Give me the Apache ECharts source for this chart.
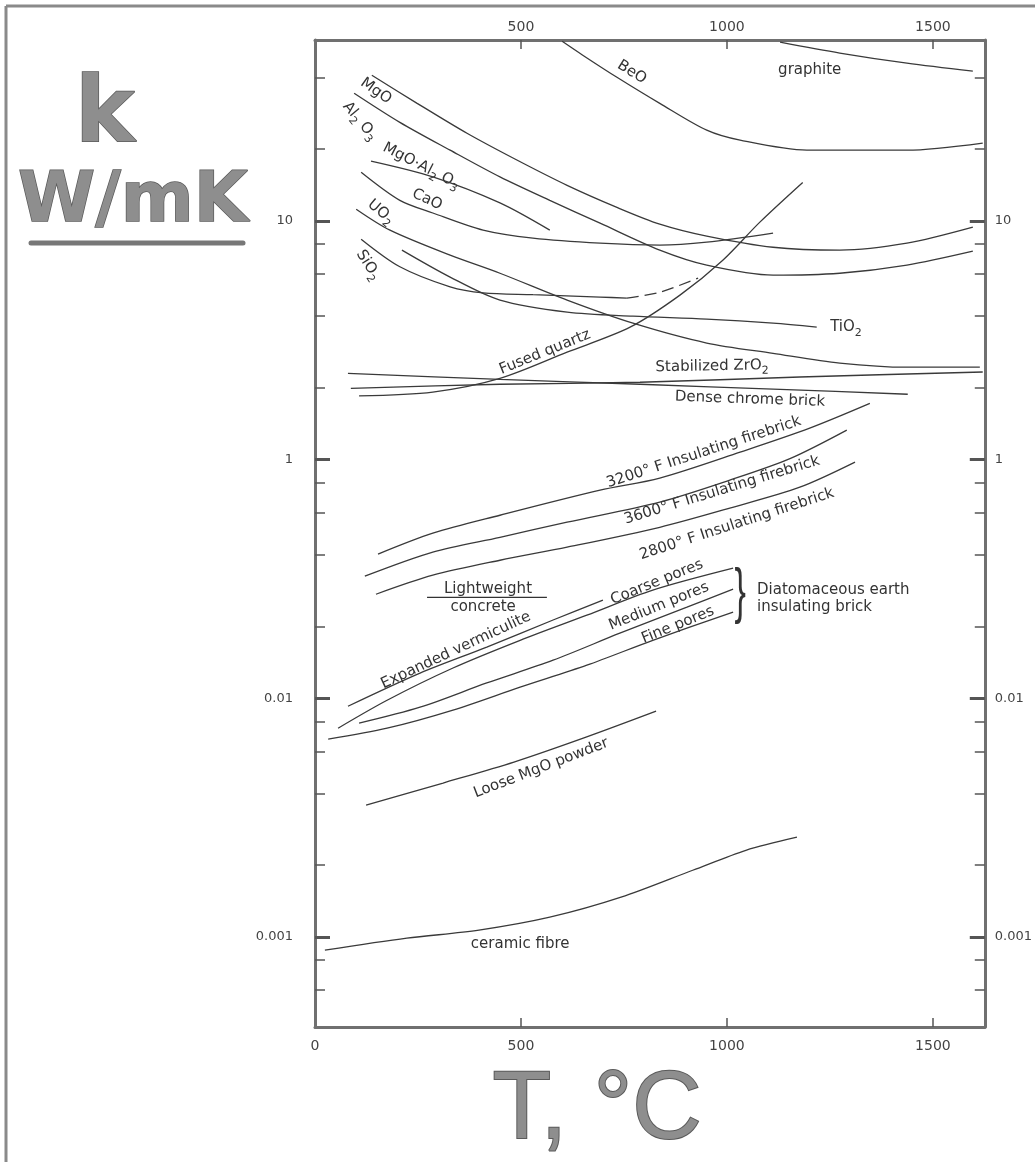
<!DOCTYPE html>
<html>
<head>
<meta charset="utf-8">
<title>k vs T</title>
<script src="https://cdn.jsdelivr.net/npm/echarts@6/dist/echarts.min.js"></script>
<style>
  html, body { margin: 0; padding: 0; background: #fff; }
  #chart { width: 1035px; height: 1162px; }
</style>
</head>
<body>
<div id="chart"></div>
<script>
  // [T in °C, k in W/mK]
  var beo = [[600, 56.6], [650, 49.5], [733, 40.0], [837, 31.1], [951, 24.0], [1032, 21.8], [1194, 19.8], [1437, 19.8], [1621, 21.2]];
  var graphite = [[1129, 56.1], [1274, 50.5], [1437, 45.8], [1597, 42.4]];
  var mgo = [[138, 40.8], [248, 31.1], [369, 23.3], [490, 18.0], [612, 14.1], [733, 11.4], [837, 9.70], [951, 8.64], [1112, 7.76], [1274, 7.55], [1437, 8.07], [1597, 9.42]];
  var al2o3 = [[95, 34.3], [206, 25.9], [328, 19.8], [449, 15.3], [570, 12.2], [692, 9.79], [837, 7.55], [951, 6.53], [1112, 5.93], [1274, 6.04], [1437, 6.53], [1597, 7.47]];
  var spinel = [[136, 17.8], [286, 15.3], [449, 11.9], [570, 9.15]];
  var cao = [[112, 16.0], [206, 12.2], [286, 10.8], [408, 9.15], [529, 8.47], [692, 8.07], [837, 7.92], [951, 8.15], [1112, 8.89]];
  var uo2 = [[100, 11.2], [182, 9.15], [328, 7.19], [449, 6.04], [612, 4.66], [772, 3.73], [951, 3.08], [1112, 2.79], [1274, 2.54], [1437, 2.44], [1614, 2.44]];
  var sio2 = [[112, 8.39], [206, 6.43], [328, 5.30], [408, 5.00], [529, 4.91], [692, 4.80], [757, 4.75]];
  var sio2Dashed = [[757, 4.75], [837, 5.03], [930, 5.76]];
  var tio2 = [[211, 7.55], [328, 5.82], [449, 4.66], [612, 4.15], [772, 3.99], [951, 3.88], [1112, 3.73], [1218, 3.59]];
  var fusedQuartz = [[107, 1.85], [286, 1.92], [449, 2.19], [612, 2.82], [765, 3.59], [886, 4.89], [990, 6.85], [1080, 9.89], [1184, 14.5]];
  var zro2 = [[87, 1.99], [449, 2.07], [789, 2.11], [1177, 2.22], [1621, 2.33]];
  var chromeBrick = [[80, 2.30], [449, 2.17], [789, 2.07], [1129, 1.97], [1439, 1.88]];
  var fb3200 = [[153, 0.402], [286, 0.492], [449, 0.585], [692, 0.745], [837, 0.837], [1032, 1.075], [1201, 1.355], [1347, 1.72]];
  var fb3600 = [[121, 0.325], [286, 0.410], [449, 0.473], [612, 0.547], [837, 0.664], [1007, 0.821], [1153, 1.01], [1291, 1.33]];
  var fb2800 = [[148, 0.273], [286, 0.328], [449, 0.379], [612, 0.430], [837, 0.521], [1007, 0.627], [1177, 0.767], [1311, 0.977]];
  var vermiculite = [[80, 0.0927], [255, 0.1276], [417, 0.164], [578, 0.213], [699, 0.258]];
  var coarsePores = [[56, 0.0750], [175, 0.0982], [335, 0.134], [498, 0.175], [660, 0.223], [820, 0.284], [1015, 0.351]];
  var mediumPores = [[107, 0.0787], [255, 0.0918], [417, 0.116], [578, 0.1445], [740, 0.1875], [903, 0.241], [1015, 0.287]];
  var finePores = [[32, 0.0675], [175, 0.0750], [335, 0.0893], [498, 0.1114], [660, 0.1377], [820, 0.175], [1015, 0.230]];
  var looseMgO = [[124, 0.0357], [311, 0.0442], [483, 0.0541], [658, 0.0688], [828, 0.0884]];
  var ceramicFibre = [[24, 0.00881], [223, 0.00989], [398, 0.01069], [570, 0.01211], [743, 0.01469], [917, 0.01905], [1046, 0.0231], [1170, 0.0262]];

  // axis ticks (y ticks are decades of k, labelled as printed on the sheet)
  var xTickValues = [500, 1000, 1500];
  var xBottomLabels = [0, 500, 1000, 1500];
  var yTickValues = [10, 1, 0.1, 0.01];
  var yTickLabels = ['10', '1', '0.01', '0.001'];
  var yMinorMultiples = [2, 4, 6, 8];
  var kMin = 0.0042, kMax = 57.3, tMax = 1626;

  var curves = [
    { data: beo }, { data: graphite }, { data: mgo }, { data: al2o3 }, { data: spinel },
    { data: cao }, { data: uo2 }, { data: sio2 }, { data: sio2Dashed, dashed: true },
    { data: tio2 }, { data: fusedQuartz }, { data: zro2 }, { data: chromeBrick },
    { data: fb3200 }, { data: fb3600 }, { data: fb2800 }, { data: vermiculite },
    { data: coarsePores }, { data: mediumPores }, { data: finePores },
    { data: looseMgO }, { data: ceramicFibre }
  ];

  // curve labels, anchored in data coordinates
  var notes = [
    { text: 'BeO', T: 769, k: 42.0, rot: -32 },
    { text: 'graphite', T: 1201, k: 42.8, rot: 0 },
    { text: 'MgO', T: 148, k: 35.0, rot: -35 },
    { text: 'Al{s|2} O{s|3}', T: 109, k: 26.2, rot: -50 },
    { text: 'MgO·Al{s|2} O{s|3}', T: 258, k: 17.0, rot: -27 },
    { text: 'CaO', T: 272, k: 12.3, rot: -25 },
    { text: 'UO{s|2}', T: 160, k: 10.9, rot: -40 },
    { text: 'SiO{s|2}', T: 129, k: 6.53, rot: -58 },
    { text: 'TiO{s|2}', T: 1289, k: 3.59, rot: 0 },
    { text: 'Fused quartz', T: 558, k: 2.82, rot: 22 },
    { text: 'Stabilized ZrO{s|2}', T: 964, k: 2.46, rot: 1 },
    { text: 'Dense chrome brick', T: 1056, k: 1.79, rot: -2 },
    { text: '3200° F Insulating firebrick', T: 944, k: 1.075, rot: 18 },
    { text: '3600° F Insulating firebrick', T: 988, k: 0.745, rot: 17 },
    { text: '2800° F Insulating firebrick', T: 1024, k: 0.537, rot: 18 },
    { text: 'Lightweight', T: 420, k: 0.287, rot: 0 },
    { text: 'concrete', T: 408, k: 0.241, rot: 0 },
    { text: 'Expanded vermiculite', T: 342, k: 0.159, rot: 25 },
    { text: 'Coarse pores', T: 830, k: 0.307, rot: 22 },
    { text: 'Medium pores', T: 835, k: 0.243, rot: 22 },
    { text: 'Fine pores', T: 881, k: 0.203, rot: 22 },
    { text: 'Diatomaceous earth', T: 1073, k: 0.284, rot: 0, left: true },
    { text: 'insulating brick', T: 1073, k: 0.241, rot: 0, left: true },
    { text: 'Loose MgO powder', T: 549, k: 0.051, rot: 21 },
    { text: 'ceramic fibre', T: 498, k: 0.00934, rot: 0 }
  ];

  var lg = function (v) { return Math.log10(v); };
  var yMin = lg(kMin), yMax = lg(kMax);
  var majorLogs = yTickValues.map(lg);
  var minorLogs = [];
  for (var d = -3; d <= 1; d++) {
    yMinorMultiples.forEach(function (m) {
      var v = d + lg(m);
      if (v > yMin && v < yMax) minorLogs.push(v);
    });
  }

  var fontFam = '"DejaVu Sans", sans-serif';
  var axisColor = '#707070';
  var lineColor = '#3a3a3a';

  var chart = echarts.init(document.getElementById('chart'));

  function yAxisOf(position, major) {
    return {
      type: 'value',
      position: position,
      min: yMin,
      max: yMax,
      splitLine: { show: false },
      axisLine: { show: major, onZero: false, lineStyle: { color: axisColor, width: 3 } },
      axisTick: {
        show: true,
        inside: true,
        length: major ? 15 : 10,
        customValues: major ? majorLogs : minorLogs,
        lineStyle: { color: '#555', width: major ? 3 : 1.5 }
      },
      axisLabel: {
        show: major,
        customValues: majorLogs,
        margin: position === 'left' ? 22 : 10,
        color: '#444',
        fontFamily: fontFam,
        fontSize: 13,
        formatter: function (v) {
          var i = majorLogs.findIndex(function (m) { return Math.abs(m - v) < 1e-6; });
          return i >= 0 ? yTickLabels[i] : '';
        }
      }
    };
  }

  function xAxisOf(position, labels) {
    return {
      type: 'value',
      position: position,
      min: 0,
      max: tMax,
      splitLine: { show: false },
      axisLine: { show: true, onZero: false, lineStyle: { color: axisColor, width: 3 } },
      axisTick: {
        show: true,
        inside: true,
        length: 9,
        customValues: xTickValues,
        lineStyle: { color: '#555', width: 1.5 }
      },
      axisLabel: {
        customValues: labels,
        margin: position === 'top' ? 6 : 12,
        color: '#444',
        fontFamily: fontFam,
        fontSize: 14,
        formatter: function (v) { return String(v); }
      }
    };
  }

  var series = curves.map(function (c) {
    return {
      type: 'line',
      xAxisIndex: 0,
      yAxisIndex: 0,
      smooth: 0.3,
      showSymbol: false,
      silent: true,
      lineStyle: { color: lineColor, width: 1.3, type: c.dashed ? [12, 6] : 'solid' },
      data: c.data.map(function (p) { return [p[0], lg(p[1])]; })
    };
  });

  chart.setOption({
    animation: false,
    backgroundColor: '#fff',
    grid: { left: 315, right: 50, top: 40, bottom: 135, containLabel: false },
    xAxis: [xAxisOf('bottom', xBottomLabels), xAxisOf('top', xTickValues)],
    yAxis: [yAxisOf('left', true), yAxisOf('left', false), yAxisOf('right', true), yAxisOf('right', false)],
    series: series
  });

  var toPx = function (T, k) {
    return chart.convertToPixel({ xAxisIndex: 0, yAxisIndex: 0 }, [T, lg(k)]);
  };

  var subStyle = { fontSize: 11, fontFamily: fontFam, padding: [11, 0, 0, 0], fill: '#333' };
  var graphics = notes.map(function (n) {
    var p = toPx(n.T, n.k);
    return {
      type: 'text',
      x: p[0],
      y: p[1],
      rotation: n.rot * Math.PI / 180,
      silent: true,
      style: {
        x: 0, y: 0,
        text: n.text,
        fontFamily: fontFam,
        fontSize: 15,
        fill: '#333',
        align: n.left ? 'left' : 'center',
        textAlign: n.left ? 'left' : 'center',
        verticalAlign: 'middle',
        textVerticalAlign: 'middle',
        rich: { s: subStyle }
      }
    };
  });

  // bar of "Lightweight / concrete" and the brace of the diatomaceous bricks
  var barA = toPx(272, 0.265), barB = toPx(563, 0.265);
  graphics.push({ type: 'line', silent: true, shape: { x1: barA[0], y1: barA[1], x2: barB[0], y2: barB[1] }, style: { stroke: '#333', lineWidth: 1.3 } });
  var br = toPx(1032, 0.273);
  graphics.push({
    type: 'text', x: br[0], y: br[1], scaleX: 0.55, silent: true,
    style: { x: 0, y: 0, text: '}', fontFamily: '"Liberation Sans", sans-serif', fontSize: 62, fill: '#333', align: 'center', textAlign: 'center', verticalAlign: 'middle', textVerticalAlign: 'middle' }
  });

  // page frame, hand lettered axis titles
  graphics.push({ type: 'line', silent: true, shape: { x1: 6, y1: 6, x2: 1035, y2: 6 }, style: { stroke: '#8a8a8a', lineWidth: 3 } });
  graphics.push({ type: 'line', silent: true, shape: { x1: 6, y1: 6, x2: 6, y2: 1162 }, style: { stroke: '#8a8a8a', lineWidth: 3 } });
  var handStyle = { fill: '#8e8e8e', stroke: '#5a5a5a', lineWidth: 1.5, fontFamily: fontFam, fontWeight: 'bold', align: 'center', textAlign: 'center', verticalAlign: 'middle', textVerticalAlign: 'middle' };
  graphics.push({ type: 'text', x: 105, y: 118, silent: true, style: Object.assign({ text: 'k', fontSize: 90 }, handStyle) });
  graphics.push({ type: 'text', x: 133, y: 203, silent: true, style: Object.assign({ text: 'W/mK', fontSize: 70 }, handStyle) });
  graphics.push({ type: 'line', silent: true, shape: { x1: 31, y1: 243, x2: 243, y2: 243 }, style: { stroke: '#777', lineWidth: 5, lineCap: 'round' } });
  graphics.push({
    type: 'text', x: 597, y: 1112, silent: true,
    style: Object.assign({}, handStyle, { text: 'T, °C', fontSize: 96, fontWeight: 'normal', fontFamily: '"Liberation Sans", sans-serif', lineWidth: 2 })
  });

  chart.setOption({ graphic: graphics });
</script>
</body>
</html>
